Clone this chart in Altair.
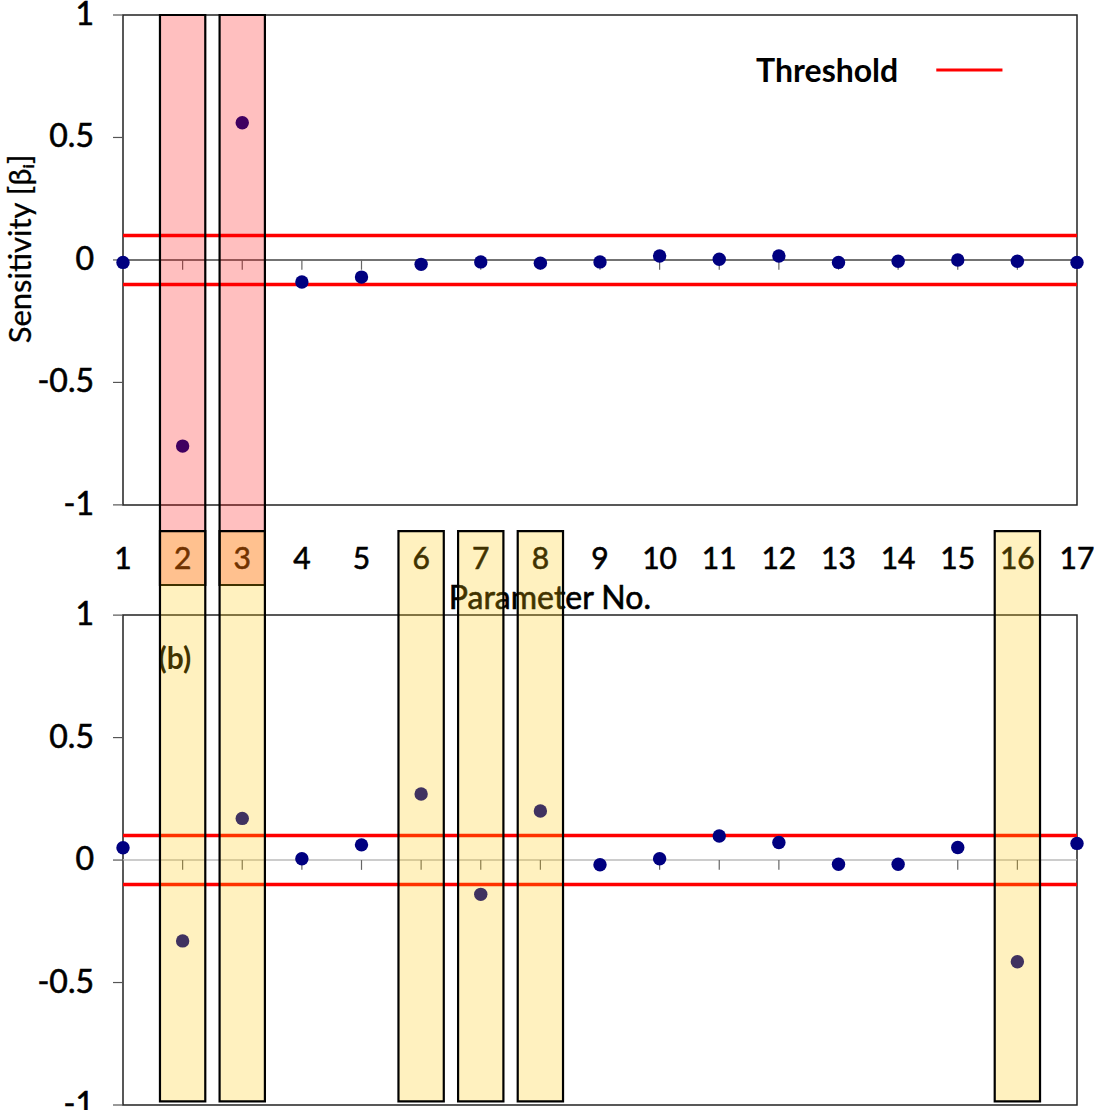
import altair as alt
import pandas as pd

# ---------------- data ----------------
params = list(range(1, 18))
beta_a = [-0.01, -0.76, 0.56, -0.09, -0.07, -0.018, -0.008, -0.013, -0.008, 0.016,
          0.003, 0.016, -0.01, -0.005, 0.0, -0.005, -0.01]
beta_b = [0.05, -0.33, 0.17, 0.005, 0.062, 0.27, -0.14, 0.20, -0.019, 0.005,
          0.098, 0.072, -0.017, -0.017, 0.051, -0.415, 0.068]
threshold = 0.1
y_ticks = [1, 0.5, 0, -0.5, -1]
y_tick_labels = ["1", "0.5", "0", "-0.5", "-1"]
highlight_a = [2, 3]
highlight_b = [2, 3, 6, 7, 8, 16]

OFF = 2.45          # vertical offset of panel (a) on the shared y scale
YDOM = [-1, 3.45]
HALF = 0.38         # half width of highlight boxes (parameter units)

calc = "datum.v + (datum.panel == 'a' ? %s : 0)" % OFF
calc2 = "datum.v2 + (datum.panel == 'a' ? %s : 0)" % OFF

xs = alt.Scale(domain=[1, 17], nice=False, zero=False)
ys = alt.Scale(domain=YDOM, nice=False, zero=False)

def X(f="x"):
    return alt.X(f + ":Q", scale=xs, axis=None)

def Y(f="yc"):
    return alt.Y(f + ":Q", scale=ys, axis=None)

FONT = "Lato"
TXT = dict(font=FONT, color="black", stroke="black", strokeWidth=0.6)

# frames
frames = pd.DataFrame({"panel": ["a", "b"], "x": [1, 1], "x2": [17, 17], "v": [-1, -1], "v2": [1, 1]})
frame_layer = alt.Chart(frames).transform_calculate(yc=calc, yc2=calc2).mark_rect(
    fillOpacity=0, stroke="#222", strokeWidth=1.5
).encode(x=X(), x2="x2:Q", y=Y(), y2="yc2:Q")

# zero axis lines
zeros = pd.DataFrame({"panel": ["a", "b"], "x": [1, 1], "x2": [17, 17], "v": [0, 0],
                      "c": ["#444", "#bbb"]})
zero_layer = alt.Chart(zeros).transform_calculate(yc=calc).mark_rule(strokeWidth=1.5).encode(
    x=X(), x2="x2:Q", y=Y(), color=alt.Color("c:N", scale=None))

# x tick marks (downwards at each parameter)
tick_rows = [{"panel": p, "x": k, "v": 0, "v2": -0.04} for p in ["a", "b"] for k in params]
xtick_layer = alt.Chart(pd.DataFrame(tick_rows)).transform_calculate(yc=calc, yc2=calc2).mark_rule(
    color="#666", strokeWidth=1.2).encode(x=X(), y=Y(), y2="yc2:Q")

# y tick marks (left)
ytick_rows = [{"panel": p, "v": t, "label": l} for p in ["a", "b"] for t, l in zip(y_ticks, y_tick_labels)]
ytick_df = pd.DataFrame(ytick_rows)
ytick_layer = alt.Chart(ytick_df).transform_calculate(yc=calc).mark_rule(
    color="#555", strokeWidth=1.2).encode(x=alt.value(-10), x2=alt.value(0), y=Y())
ylabel_layer = alt.Chart(ytick_df).transform_calculate(yc=calc).mark_text(
    align="right", baseline="middle", fontSize=32, **TXT).encode(
    x=alt.value(-29), y=Y(), text="label:N")

# thresholds
thr_rows = [{"panel": p, "x": 1, "x2": 17, "v": s * threshold} for p in ["a", "b"] for s in [1, -1]]
thr_layer = alt.Chart(pd.DataFrame(thr_rows)).transform_calculate(yc=calc).mark_rule(
    color="#ff0000", strokeWidth=3.5).encode(x=X(), x2="x2:Q", y=Y())

# points
pts = pd.DataFrame({"panel": ["a"] * 17 + ["b"] * 17, "x": params + params, "v": beta_a + beta_b})
pt_layer = alt.Chart(pts).transform_calculate(yc=calc).mark_circle(
    size=180, color="#000080", opacity=1).encode(x=X(), y=Y())

# parameter labels
plabels = pd.DataFrame({"panel": "b", "x": params, "v": 1.225, "t": [str(p) for p in params]})
plabel_layer = alt.Chart(plabels).transform_calculate(yc=calc).mark_text(
    align="center", baseline="middle", fontSize=30, **TXT).encode(
    x=X(), y=Y(), text="t:N")

# titles / annotations
notes = pd.DataFrame({
    "panel": ["b", "b"],
    "x": [8.16, 1.87],
    "v": [1.065, 0.815],
    "t": ["Parameter No.", "(b)"],
})
xtitle_layer = alt.Chart(notes.iloc[[0]]).transform_calculate(yc=calc).mark_text(
    align="center", baseline="middle", fontSize=32, **TXT).encode(
    x=X(), y=Y(), text="t:N")
b_layer = alt.Chart(notes.iloc[[1]]).transform_calculate(yc=calc).mark_text(
    align="center", baseline="middle", font=FONT, fontSize=30, fontWeight="bold", color="black").encode(
    x=X(), y=Y(), text="t:N")

ytitle = pd.DataFrame({"panel": ["a"], "v": [0.045], "t": ["Sensitivity [β\u1d62]"]})
ytitle_layer = alt.Chart(ytitle).transform_calculate(yc=calc).mark_text(
    align="center", baseline="middle", angle=270, font=FONT, fontSize=31, color="black",
    stroke="black", strokeWidth=0.3).encode(
    x=alt.value(-101), y=Y(), text="t:N")

# highlight boxes (semi-transparent, on top)
pink_df = pd.DataFrame({"panel": "a", "p": highlight_a, "v": 1.0, "v2": -1.327})
pink_layer = alt.Chart(pink_df).transform_calculate(
    yc=calc, yc2=calc2, x="datum.p - %s" % HALF, x2="datum.p + %s" % HALF
).mark_rect(fill="#ff0000", fillOpacity=0.25, stroke="black", strokeWidth=2.2).encode(
    x=X(), x2="x2:Q", y=Y(), y2="yc2:Q")

yel_df = pd.DataFrame({"panel": "b", "p": highlight_b, "v": 1.343, "v2": -0.985})
yel_layer = alt.Chart(yel_df).transform_calculate(
    yc=calc, yc2=calc2, x="datum.p - %s" % HALF, x2="datum.p + %s" % HALF
).mark_rect(fill="#ffc800", fillOpacity=0.25, stroke="black", strokeWidth=2.2).encode(
    x=X(), x2="x2:Q", y=Y(), y2="yc2:Q")

# legend
leg_text = pd.DataFrame({"panel": ["a"], "x": [12.81], "v": [0.767], "t": ["Threshold"]})
leg_text_layer = alt.Chart(leg_text).transform_calculate(yc=calc).mark_text(
    align="center", baseline="middle", font=FONT, fontSize=32, fontWeight="bold", color="black").encode(
    x=X(), y=Y(), text="t:N")
leg_line = pd.DataFrame({"panel": ["a"], "x": [14.64], "x2": [15.75], "v": [0.775]})
leg_line_layer = alt.Chart(leg_line).transform_calculate(yc=calc).mark_rule(
    color="#ff0000", strokeWidth=3).encode(x=X(), x2="x2:Q", y=Y())

chart = alt.layer(
    frame_layer, zero_layer, xtick_layer, ytick_layer, thr_layer, pt_layer,
    ylabel_layer, plabel_layer, xtitle_layer, b_layer, ytitle_layer,
    pink_layer, yel_layer, leg_text_layer, leg_line_layer,
).properties(
    width=954, height=1090,
    autosize=alt.AutoSizeParams(type="none"),
    padding={"left": 123, "top": 15, "right": 19, "bottom": 5},
    background="white",
).configure_view(stroke=None)

chart.save("out.html", embed_options={"renderer": "svg", "actions": False})
